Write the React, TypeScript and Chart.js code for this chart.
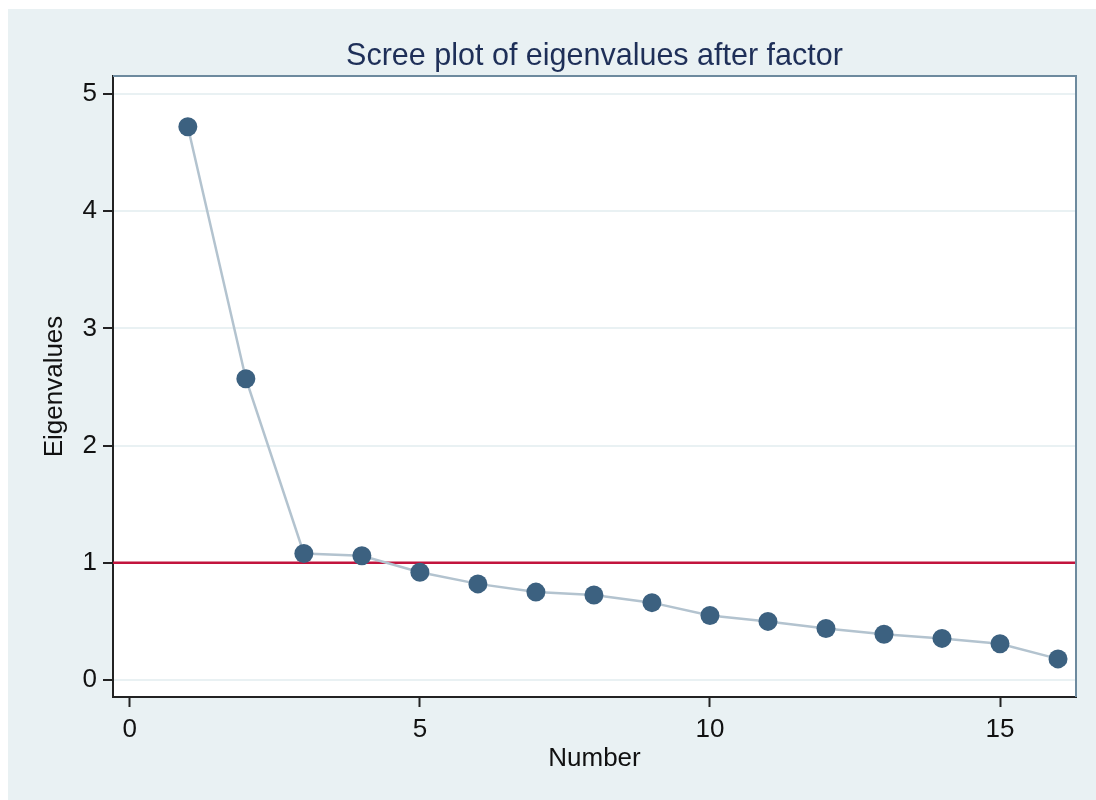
import { useEffect, useRef } from "react";
import { Chart, registerables } from "chart.js";

Chart.register(...registerables);

const factorNumbers = [1, 2, 3, 4, 5, 6, 7, 8, 9, 10, 11, 12, 13, 14, 15, 16];
const eigenvalues = [4.72, 2.57, 1.08, 1.06, 0.92, 0.82, 0.75, 0.725, 0.66, 0.55, 0.5, 0.44, 0.39, 0.355, 0.31, 0.18];
const xTicks = [0, 5, 10, 15];
const yTicks = [0, 1, 2, 3, 4, 5];
const xRange = [-0.29, 16.31];
const yRange = [-0.145, 5.153];
const referenceLevel = 1;

const BG = "#e9f1f3";
const FONT = "'Liberation Sans', Arial, sans-serif";

// white plot region with the thin blue-grey frame on top and right
const plotRegion = {
  id: "plotRegion",
  beforeDraw(chart: Chart) {
    const { ctx, chartArea } = chart;
    ctx.save();
    ctx.fillStyle = "#ffffff";
    ctx.fillRect(chartArea.left, chartArea.top, chartArea.right - chartArea.left, chartArea.bottom - chartArea.top);
    ctx.restore();
  },
  afterDatasetsDraw(chart: Chart) {
    const { ctx, chartArea } = chart;
    ctx.save();
    ctx.strokeStyle = "#6d8a9e";
    ctx.lineWidth = 2;
    ctx.beginPath();
    ctx.moveTo(chartArea.left, chartArea.top);
    ctx.lineTo(chartArea.right, chartArea.top);
    ctx.lineTo(chartArea.right, chartArea.bottom);
    ctx.stroke();
    ctx.restore();
  },
};

export default function App() {
  const canvasRef = useRef<HTMLCanvasElement>(null);
  const chartRef = useRef<Chart | null>(null);

  useEffect(() => {
    if (!canvasRef.current) return;
    const ctx = canvasRef.current.getContext("2d");
    if (!ctx) return;

    chartRef.current = new Chart(ctx, {
      type: "line",
      data: {
        datasets: [
          {
            label: "Eigenvalues",
            data: factorNumbers.map((n, i) => ({ x: n, y: eigenvalues[i] })),
            borderColor: "#b3c3cf",
            borderWidth: 2.5,
            pointRadius: 9.5,
            pointBackgroundColor: "#3c6180",
            pointBorderColor: "#3c6180",
            pointBorderWidth: 0,
            tension: 0,
            fill: false,
            order: 1,
          },
          {
            label: "Reference",
            data: [
              { x: xRange[0], y: referenceLevel },
              { x: xRange[1], y: referenceLevel },
            ],
            borderColor: "#c2143d",
            borderWidth: 2.5,
            pointRadius: 0,
            fill: false,
            order: 2,
          },
        ],
      },
      options: {
        responsive: false,
        animation: false,
        parsing: false,
        layout: { padding: { left: 0, right: 20, top: 0, bottom: 0 } },
        scales: {
          x: {
            type: "linear",
            min: xRange[0],
            max: xRange[1],
            afterBuildTicks: (scale) => {
              scale.ticks = xTicks.map((v) => ({ value: v }));
            },
            afterFit: (scale) => {
              scale.height = 103;
            },
            ticks: {
              color: "#111",
              font: { family: FONT, size: 26 },
              padding: 7,
              maxRotation: 0,
              autoSkip: false,
            },
            grid: {
              drawOnChartArea: false,
              drawTicks: true,
              tickLength: 10,
              tickColor: "#222",
              tickWidth: 2,
            },
            border: { display: true, color: "#222", width: 2 },
            title: {
              display: true,
              text: "Number",
              color: "#111",
              font: { family: FONT, size: 26 },
              padding: { top: 0, bottom: 26 },
            },
          },
          y: {
            type: "linear",
            min: yRange[0],
            max: yRange[1],
            afterBuildTicks: (scale) => {
              scale.ticks = yTicks.map((v) => ({ value: v }));
            },
            afterFit: (scale) => {
              scale.width = 105;
            },
            ticks: {
              color: "#111",
              font: { family: FONT, size: 26 },
              padding: 6,
              autoSkip: false,
            },
            grid: {
              color: BG,
              lineWidth: 2,
              drawTicks: true,
              tickLength: 10,
              tickColor: "#222",
              tickWidth: 2,
            },
            border: { display: true, color: "#222", width: 2 },
            title: {
              display: true,
              text: "Eigenvalues",
              color: "#111",
              font: { family: FONT, size: 26 },
              padding: { top: 31, bottom: 0 },
            },
          },
        },
        plugins: {
          legend: { display: false },
          tooltip: { enabled: false },
          title: {
            display: true,
            fullSize: false,
            text: "Scree plot of eigenvalues after factor",
            color: "#1e2f58",
            font: { family: FONT, size: 30.5, weight: "normal" },
            padding: { top: 29, bottom: 1.4 },
          },
        },
      },
      plugins: [plotRegion],
    });

    return () => {
      if (chartRef.current) {
        chartRef.current.destroy();
        chartRef.current = null;
      }
    };
  }, []);

  return (
    <div
      style={{
        position: "absolute",
        left: 8,
        top: 9,
        width: 1088,
        height: 791,
        background: BG,
      }}
    >
      <canvas ref={canvasRef} width={1088} height={791} style={{ display: "block" }} />
    </div>
  );
}
